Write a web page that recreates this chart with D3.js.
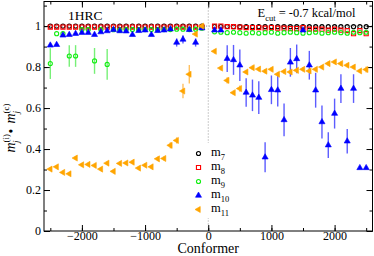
<!DOCTYPE html>
<html>
<head>
<meta charset="utf-8">
<script src="https://cdn.jsdelivr.net/npm/d3@7"></script>
<style>
  body { margin: 0; background: #fff; }
  svg text { font-family: "Liberation Serif", "DejaVu Serif", serif; }
</style>
</head>
<body>
<svg id="chart" width="374" height="256"></svg>
<script>
// conformer index (x values)
var conformer = [-2500,-2400,-2300,-2200,-2100,-2000,-1900,-1800,-1700,-1600,-1500,-1400,-1300,-1200,-1100,-1000,-900,-800,-700,-600,-500,-400,-300,-200,-100,
                 100,200,300,400,500,600,700,800,900,1000,1100,1200,1300,1400,1500,1600,1700,1800,1900,2000,2100,2200,2300,2400,2500];

var m7 = [1,1,1,1,1,1,1,1,1,1,1,1,1,1,1,1,1,1,1,1,1,1,1,1,1,
          0.998,0.998,0.998,0.997,0.997,0.997,0.997,0.997,0.997,0.997,0.997,0.997,0.997,0.997,0.997,0.997,0.997,0.997,0.997,0.997,0.997,0.997,0.997,0.997,0.997];
var m8 = [0.995,0.995,0.995,0.995,0.995,0.995,0.995,0.995,0.995,0.995,0.995,0.995,0.995,0.995,0.995,0.995,0.995,0.995,0.995,0.995,0.995,0.995,0.995,0.995,0.995,
          1.0,1.0,0.997,0.997,0.995,0.993,0.993,0.993,0.99,0.993,0.99,0.99,0.988,0.988,0.993,0.985,0.985,0.985,0.98,0.985,0.98,0.978,0.963,0.978,0.963];
var m9 = [0.817,0.963,0.963,0.854,0.854,0.983,0.983,0.83,0.983,0.813,0.982,0.98,0.983,0.983,0.982,0.983,0.983,0.982,0.983,0.983,0.985,0.985,0.983,0.985,0.99,
          0.972,0.97,0.968,0.97,0.968,0.965,0.968,0.965,0.968,0.97,0.965,0.968,0.97,0.968,0.965,0.968,0.97,0.965,0.968,0.97,0.968,0.965,0.97,0.968,0.97];
var m9err = [0.075,0,0,0.053,0.053,0,0,0.063,0,0.075,0,0,0,0,0,0,0,0,0,0,0,0,0,0,0,
             0,0,0,0,0,0,0,0,0,0,0,0,0,0,0,0,0,0,0,0,0,0,0,0,0];
var m10 = [0.906,0.909,0.955,0.958,0.963,0.968,0.968,0.958,0.971,0.976,0.982,0.976,0.975,0.958,0.977,0.98,0.958,0.977,0.98,0.985,0.92,0.935,0.982,0.92,0.99,
           0.98,0.98,0.841,0.835,0.809,0.676,0.662,0.651,0.36,0.689,0.687,0.542,0.823,0.84,0.98,0.809,0.687,0.532,0.419,0.573,0.695,0.438,0.695,0.308,0.308];
var m10err = [0.005,0.005,0.005,0,0,0,0,0,0,0,0,0,0,0,0,0,0,0,0,0,0.02,0.02,0,0.02,0,
              0,0,0.065,0.073,0.077,0.07,0.077,0.08,0.073,0.07,0.08,0.08,0.07,0.07,0,0.07,0.085,0.08,0.063,0.073,0.07,0.06,0.07,0,0];
var m11 = [0.302,0.313,0.286,0.279,0.356,0.323,0.325,0.32,0.302,0.331,0.291,0.33,0.332,0.336,0.307,0.321,0.313,0.352,0.354,0.418,0.442,0.683,0.765,0.961,1.0,
           0.877,0.795,0.735,0.675,0.695,0.776,0.797,0.79,0.78,0.789,0.765,0.778,0.776,0.784,0.789,0.781,0.789,0.8,0.817,0.825,0.817,0.809,0.8,0.781,0.788];
var m11err = [0.008,0.008,0.008,0.008,0.01,0.008,0.008,0.008,0.008,0.008,0.008,0.008,0.008,0.008,0.008,0.008,0.008,0.01,0.01,0.015,0.015,0.035,0.045,0.01,0.005,
              0.01,0.01,0.015,0.01,0.015,0.01,0.01,0.01,0.01,0.01,0.01,0.01,0.01,0.01,0.01,0.01,0.01,0.01,0.01,0.01,0.01,0.01,0.01,0.01,0.015];

var xTicks = [-2000, -1000, 0, 1000, 2000];
var yTicks = [0, 0.2, 0.4, 0.6, 0.8, 1];

var svg = d3.select("#chart"),
    margin = {top: 1.5, right: 1.5, bottom: 25, left: 44},
    width = +svg.attr("width") - margin.left - margin.right,
    height = +svg.attr("height") - margin.top - margin.bottom;
var g = svg.append("g").attr("transform", "translate(" + margin.left + "," + margin.top + ")");

var x = d3.scaleLinear().domain([-2600, 2600]).range([0, width]);
var y = d3.scaleLinear().domain([0, 1.12]).range([height, 0]);

// dotted reference lines
g.append("line").attr("x1", x(0)).attr("x2", x(0)).attr("y1", 0).attr("y2", height)
    .attr("stroke", "#999").attr("stroke-dasharray", "1,2");
g.append("line").attr("x1", 0).attr("x2", width).attr("y1", y(1)).attr("y2", y(1))
    .attr("stroke", "#999").attr("stroke-dasharray", "1,2");

// axes, ticks pointing inward
var minorX = d3.range(-2500, 2501, 500), minorY = d3.range(0, 1.11, 0.1);
function tidy(sel) {
  sel.select(".domain").remove();
  sel.selectAll("text").style("font-size", "12px").attr("fill", "#000");
  sel.selectAll("line").attr("stroke", "#000");
}
g.append("g").attr("transform", "translate(0," + height + ")")
    .call(d3.axisBottom(x).tickValues(minorX).tickSize(-3).tickFormat("")).call(tidy);
g.append("g").attr("transform", "translate(0," + height + ")")
    .call(d3.axisBottom(x).tickValues(xTicks).tickSize(-6).tickPadding(0).tickFormat(d3.format("d"))).call(tidy);
g.append("g").call(d3.axisTop(x).tickValues(minorX).tickSize(-3).tickFormat("")).call(tidy);
g.append("g").call(d3.axisTop(x).tickValues(xTicks).tickSize(-6).tickFormat("")).call(tidy);
g.append("g").call(d3.axisLeft(y).tickValues(minorY).tickSize(-3).tickFormat("")).call(tidy);
g.append("g").call(d3.axisLeft(y).tickValues(yTicks).tickSize(-6).tickPadding(3).tickFormat(d3.format("~g"))).call(tidy);
g.append("g").attr("transform", "translate(" + width + ",0)")
    .call(d3.axisRight(y).tickValues(minorY).tickSize(-3).tickFormat("")).call(tidy);
g.append("g").attr("transform", "translate(" + width + ",0)")
    .call(d3.axisRight(y).tickValues(yTicks).tickSize(-6).tickFormat("")).call(tidy);

g.append("rect").attr("width", width).attr("height", height)
    .attr("fill", "none").attr("stroke", "#000").attr("stroke-width", 1);

// series
var series = [
  {name: "7", vals: m7, err: null, color: "#000", bar: "#000", shape: d3.symbolCircle, size: 13, fill: "none", rot: 0},
  {name: "8", vals: m8, err: null, color: "#ff0000", bar: "#ff0000", shape: d3.symbolSquare, size: 17, fill: "none", rot: 0},
  {name: "9", vals: m9, err: m9err, color: "#11ee11", bar: "#77f077", shape: d3.symbolCircle, size: 13, fill: "none", rot: 0},
  {name: "10", vals: m10, err: m10err, color: "#0000ff", bar: "#5c5cff", shape: d3.symbolTriangle, size: 16, fill: "#0000ff", rot: 0},
  {name: "11", vals: m11, err: m11err, color: "#ffa500", bar: "#ffc060", shape: d3.symbolTriangle, size: 16, fill: "#ffa500", rot: -90}
];

series.forEach(function(s) {
  var pts = conformer.map(function(c, i) { return {x: c, v: s.vals[i], e: s.err ? s.err[i] : 0}; });
  g.selectAll(null)
      .data(pts.filter(function(d) { return d.e > 0; }))
    .enter().append("line")
      .attr("x1", function(d) { return x(d.x); })
      .attr("x2", function(d) { return x(d.x); })
      .attr("y1", function(d) { return y(d.v - d.e); })
      .attr("y2", function(d) { return y(d.v + d.e); })
      .attr("stroke", s.bar)
      .attr("stroke-width", 1.4);
  g.selectAll(null)
      .data(pts)
    .enter().append("path")
      .attr("d", d3.symbol().type(s.shape).size(s.size))
      .attr("transform", function(d) { return "translate(" + x(d.x) + "," + y(d.v) + ") rotate(" + s.rot + ")"; })
      .attr("fill", s.fill)
      .attr("stroke", s.color)
      .attr("stroke-width", s.fill === "none" ? 1.1 : 0.6);
});

// legend
var leg = svg.append("g");
leg.append("rect").attr("x", 190).attr("y", 143).attr("width", 44).attr("height", 75).attr("fill", "#fff");
series.forEach(function(s, i) {
  var ly = 153.5 + i * 14;
  leg.append("path")
      .attr("d", d3.symbol().type(s.shape).size(s.size))
      .attr("transform", "translate(198.5," + ly + ") rotate(" + s.rot + ")")
      .attr("fill", s.fill).attr("stroke", s.color)
      .attr("stroke-width", s.fill === "none" ? 1.1 : 0.6);
  var t = leg.append("text").attr("x", 211).attr("y", ly + 2.5).style("font-size", "12.5px");
  t.append("tspan").text("m");
  t.append("tspan").attr("dy", 4).style("font-size", "8.5px").text(s.name);
});

// annotations
svg.append("text").attr("x", 68).attr("y", 20).style("font-size", "13.5px").text("1HRC");
var et = svg.append("text").attr("x", 257.5).attr("y", 17).style("font-size", "12.5px");
et.append("tspan").text("E");
et.append("tspan").attr("dy", 4).style("font-size", "8.5px").text("cut");
et.append("tspan").attr("dy", -4).text(" = -0.7 kcal/mol");

svg.append("text").attr("x", margin.left + x(0)).attr("y", 253)
    .attr("text-anchor", "middle").style("font-size", "14px").text("Conformer");

// y label: m_j^(i) • m_j^(c)
var yl = svg.append("text").attr("transform", "translate(15,128) rotate(-90)")
    .attr("text-anchor", "middle").style("font-size", "14px");
yl.append("tspan").style("font-style", "italic").text("m");
yl.append("tspan").attr("dy", -6).style("font-size", "9px").text("(i)");
yl.append("tspan").attr("dx", -9).attr("dy", 10).style("font-size", "9px").style("font-style", "italic").text("j");
yl.append("tspan").attr("dx", 7).attr("dy", -3).text("•");
yl.append("tspan").attr("dx", 5).attr("dy", -1).style("font-style", "italic").text("m");
yl.append("tspan").attr("dy", -6).style("font-size", "9px").text("(c)");
yl.append("tspan").attr("dx", -10).attr("dy", 10).style("font-size", "9px").style("font-style", "italic").text("j");
</script>
</body>
</html>
